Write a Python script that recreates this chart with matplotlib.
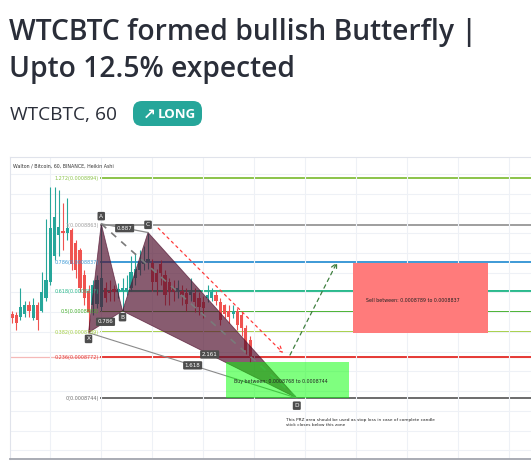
import numpy as np
import matplotlib.pyplot as plt
import matplotlib.transforms as mtransforms
from matplotlib.patches import Polygon, Rectangle, FancyBboxPatch

W, H = 531, 462
E7 = 1e-7  # all prices below are written in units of 1e-7 BTC

# Heikin Ashi candles, WTC/BTC 60m
ha_open = [8802, 8801, 8800, 8802, 8808, 8799, 8808, 8804, 8813, 8824,
           8842, 8856, 8859, 8858, 8860, 8851, 8846, 8829, 8818, 8808,
           8809, 8807, 8820, 8818, 8819, 8817, 8818, 8818, 8820, 8827,
           8832, 8836, 8838, 8837, 8830, 8836, 8829, 8824, 8820, 8818,
           8818, 8816, 8815, 8816, 8813, 8810, 8813, 8813, 8815, 8810,
           8808, 8804, 8802, 8804, 8801, 8792, 8784]
ha_close = [8799, 8796, 8807, 8808, 8804, 8808, 8798, 8817, 8825, 8861,
            8869, 8862, 8858, 8861, 8836, 8832, 8820, 8813, 8803, 8822,
            8825, 8827, 8813, 8816, 8817, 8819, 8820, 8820, 8831, 8833,
            8838, 8838, 8840, 8824, 8824, 8830, 8815, 8817, 8817, 8820,
            8815, 8809, 8817, 8810, 8807, 8806, 8815, 8817, 8811, 8798,
            8802, 8800, 8804, 8794, 8792, 8777, 8772]
ha_high = [8804, 8803, 8820, 8811, 8811, 8813, 8810, 8831, 8867, 8889,
           8889, 8887, 8878, 8882, 8861, 8853, 8847, 8832, 8822, 8825,
           8829, 8864, 8824, 8825, 8822, 8823, 8827, 8829, 8842, 8844,
           8846, 8849, 8858, 8840, 8833, 8839, 8832, 8827, 8825, 8825,
           8822, 8820, 8827, 8820, 8817, 8814, 8822, 8820, 8818, 8813,
           8809, 8808, 8808, 8806, 8803, 8794, 8787]
ha_low = [8796, 8791, 8798, 8800, 8800, 8798, 8791, 8803, 8811, 8822,
          8839, 8842, 8846, 8853, 8832, 8827, 8817, 8808, 8789, 8801,
          8806, 8804, 8810, 8811, 8811, 8813, 8804, 8815, 8818, 8822,
          8829, 8832, 8833, 8818, 8815, 8822, 8808, 8808, 8811, 8813,
          8808, 8804, 8811, 8803, 8801, 8799, 8810, 8811, 8808, 8794,
          8799, 8796, 8799, 8791, 8787, 8774, 8769]

# bullish butterfly X-A-B-C-D (bar index, price)
pat_names = ["X", "A", "B", "C", "D"]
pat_bar = [18, 21, 26, 32, 67]
pat_price = [8789, 8864, 8804, 8858, 8744]
ratio_text = ["0.786", "0.887", "2.161", "1.618"]  # XB, AC, BD, XD

# fib retracement, 0 -> 1 spans 8744 .. 8863
fib_ratio = [1.272, 1, 0.786, 0.618, 0.5, 0.382, 0.236, 0]
fib_label = ["1.272(0.0008894)", "1(0.0008863)", "0.786(0.0008837)",
             "0.618(0.0008817)", "0.5(0.0008803)", "0.382(0.0008789)",
             "0.236(0.0008772)", "0(0.0008744)"]
fib_color = ["#8bc34a", "#9e9e9e", "#3d9ad6", "#26b98a", "#43b02a",
             "#a5d043", "#e53935", "#6b6b6b"]
fib_base, fib_span = 8744, 119

sell_zone = [8789, 8837]
buy_zone = [8744, 8769]

fig = plt.figure(figsize=(W / 100, H / 100), dpi=100)
pix = mtransforms.Affine2D().scale(1 / W, -1 / H).translate(0, 1) + fig.transFigure

# ---- header ----
for txt, y in [("WTCBTC formed bullish Butterfly |", 40), ("Upto 12.5% expected", 76.5)]:
    fig.text(9, y, txt, transform=pix, fontsize=20.3, family="Open Sans",
             weight="semibold", color="#2a2e39", va="baseline")
fig.text(10, 120, "WTCBTC, 60", transform=pix, fontsize=13.8, family="Open Sans",
         color="#2a2e39", va="baseline")
badge = FancyBboxPatch((136, 104), 63, 19, boxstyle="round,pad=3,rounding_size=9",
                       transform=pix, fc="#26a69a", ec="none")
fig.patches.append(badge)
fig.text(149, 114.5, "\u2197", transform=pix, fontsize=11, family="DejaVu Sans",
         weight="bold", color="white", ha="center", va="center")
fig.text(158, 114.5, "LONG", transform=pix, fontsize=9.5, family="Open Sans",
         weight="bold", color="white", va="center")

# ---- chart ----
ax = fig.add_axes([10 / W, 3 / H, 521 / W, 302 / H])
ax.set_xlim(-0.47, 122.1)
ax.set_ylim(8702 * E7, 8910 * E7)
ax.set_xticks(np.arange(9, 122, 12))
ax.set_yticks(np.arange(8708, 8910, 13.6) * E7)
ax.grid(color="#eef1f6", lw=0.8, zorder=0)
ax.tick_params(length=0, labelbottom=False, labelleft=False)
for s in ["top", "left"]:
    ax.spines[s].set_color("#e0e3eb")
    ax.spines[s].set_linewidth(0.8)
ax.spines["right"].set_visible(False)
ax.spines["bottom"].set_color("#a3a6af")
ax.spines["bottom"].set_linewidth(1.3)

ax.text(0.006, 0.97, "Walton / Bitcoin, 60, BINANCE, Heikin Ashi", transform=ax.transAxes,
        fontsize=3.4, color="#333333", va="center")

# fib levels
fib_price = [fib_base + r * fib_span for r in fib_ratio]
ax.axhline(fib_price[6] * E7, color="#e53935", lw=0.9, alpha=0.35, zorder=1)
for p, lab, col in zip(fib_price, fib_label, fib_color):
    ax.hlines(p * E7, 20.8, 122.1, color=col, lw=1.4, zorder=1)
    ax.text(20.4, p * E7, lab, ha="right", va="center", fontsize=3.5, color=col, zorder=6)

# candles
o = np.array(ha_open) * E7
c = np.array(ha_close) * E7
hi = np.array(ha_high) * E7
lo = np.array(ha_low) * E7
xs = np.arange(len(o))
cols = np.where(c >= o, "#26a69a", "#ef5350")
ax.vlines(xs, lo, hi, colors=cols, lw=0.8, zorder=2)
ax.bar(xs, c - o, bottom=o, width=0.72, color=cols, zorder=2)

# pattern triangles
pb = np.array(pat_bar, dtype=float)
pp = np.array(pat_price) * E7
for tri in ([0, 1, 2], [2, 3, 4]):
    ax.add_patch(Polygon(np.column_stack([pb[tri], pp[tri]]), closed=True,
                         fc="#500f2d", ec="#500f2d", lw=0.6, alpha=0.68, zorder=3))
ax.plot(pb[[1, 3]], pp[[1, 3]], color="#8a8a8a", lw=0.9, zorder=3)
ax.plot(pb[[0, 4]], pp[[0, 4]], color="#8a8a8a", lw=0.8, zorder=3)
ax.plot(pb[[1, 4]], pp[[1, 4]], color="#7a7a7a", lw=1.2, ls=(0, (4, 4)), zorder=3)

# zones
ax.add_patch(Rectangle((50.4, buy_zone[0] * E7), 28.9, (buy_zone[1] - buy_zone[0]) * E7,
                       fc="#00ff00", ec="none", alpha=0.5, zorder=4))
ax.add_patch(Rectangle((80.2, sell_zone[0] * E7), 31.8, (sell_zone[1] - sell_zone[0]) * E7,
                       fc="#ff7b7b", ec="none", zorder=4))
ax.text(94.4, 8811.4 * E7, "Sell between: 0.0008789 to 0.0008837", fontsize=3.4,
        color="#222222", ha="center", va="center", zorder=6)
ax.text(63.3, 8755.7 * E7, "Buy between: 0.0008768 to 0.0008744", fontsize=3.4,
        color="#222222", ha="center", va="center", zorder=6)
ax.text(64.5, 8730 * E7, "This PRZ area should be used as stop loss in case of complete candle\n"
        "stick closes below this zone", fontsize=3.1, color="#222222", va="top",
        linespacing=1.1, zorder=6)

# projection arrows
ax.annotate("", xy=(63.8, 8775 * E7), xytext=(34.4, 8861 * E7), zorder=5,
            arrowprops=dict(arrowstyle="->", color="#ff3b3b", lw=0.9, ls=(0, (2, 3)),
                            shrinkA=0, shrinkB=0))
ax.annotate("", xy=(76.5, 8837.6 * E7), xytext=(65.4, 8773.6 * E7), zorder=5,
            arrowprops=dict(arrowstyle="->", color="#3f7f3f", lw=0.9, ls=(0, (3, 3)),
                            shrinkA=0, shrinkB=0))

# point labels
offs = [-4.5, 5.5, -4.5, 5.5, -5.5]
for name, b, p, dy in zip(pat_names, pb, pp, offs):
    ax.annotate(name, (b, p), xytext=(0, dy), textcoords="offset points", ha="center",
                va="center", fontsize=4.2, color="white", zorder=7,
                bbox=dict(boxstyle="round,pad=0.3,rounding_size=0.2", fc="#4d4d4d", ec="none"))

# ratio labels on the pattern legs
for (i, j), t in zip([(0, 2), (1, 3), (2, 4), (0, 4)], ratio_text):
    ax.text((pb[i] + pb[j]) / 2, (pp[i] + pp[j]) / 2, t, ha="center", va="center",
            fontsize=4.0, color="white", zorder=7,
            bbox=dict(boxstyle="round,pad=0.3,rounding_size=0.2", fc="#4d4d4d", ec="none"))

fig.savefig("out.png", dpi=100)
